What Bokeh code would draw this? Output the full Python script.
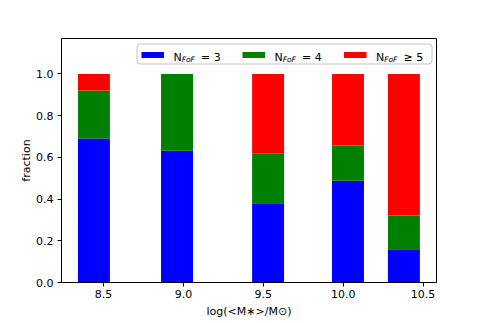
from bokeh.plotting import figure
from bokeh.models import ColumnDataSource, FixedTicker, NumeralTickFormatter, Range1d, Label, BoxAnnotation
from bokeh.embed import file_html
from bokeh.resources import INLINE

# ---- data ----
mass_bins = [8.44, 8.96, 9.53, 10.03, 10.38]
frac_n3 = [0.691, 0.632, 0.380, 0.488, 0.160]
frac_n4 = [0.230, 0.368, 0.237, 0.169, 0.161]
frac_n5 = [0.079, 0.000, 0.383, 0.343, 0.679]
series = ["n3", "n4", "n5"]
colors = ["#0000ff", "#008000", "#ff0000"]
legend_main = ["N", "N", "N"]
legend_sub = ["FoF", "FoF", "FoF"]
legend_tail = ["= 3", "= 4", "\u2265 5"]
x_ticks = [8.5, 9.0, 9.5, 10.0, 10.5]
y_ticks = [0.0, 0.2, 0.4, 0.6, 0.8, 1.0]
bar_width = 0.2

FONT = "DejaVu Sans"
FS = "11px"

src = ColumnDataSource(dict(x=mass_bins, n3=frac_n3, n4=frac_n4, n5=frac_n5))

p = figure(frame_width=375, frame_height=244, output_backend="svg", toolbar_location=None,
           min_border_left=61, min_border_top=38, min_border_right=44, min_border_bottom=38,
           x_range=Range1d(8.237, 10.584), y_range=Range1d(0, 1.17))

p.vbar_stack(series, x="x", width=bar_width, color=colors, source=src, line_color=None)

p.grid.visible = False
p.outline_line_color = "black"
p.outline_line_alpha = 1
p.outline_line_width = 1
p.background_fill_color = "white"
p.border_fill_color = "white"

p.xaxis.ticker = FixedTicker(ticks=x_ticks)
p.yaxis.ticker = FixedTicker(ticks=y_ticks)
for ax in (p.xaxis, p.yaxis):
    ax.formatter = NumeralTickFormatter(format="0.0")
    ax.minor_tick_line_color = None
    ax.major_tick_in = 0
    ax.major_tick_out = 4
    ax.axis_line_color = "black"
    ax.major_tick_line_color = "black"
    ax.major_label_text_font = FONT
    ax.major_label_text_font_size = FS
    ax.major_label_text_color = "black"
    ax.axis_label_text_font = FONT
    ax.axis_label_text_font_size = FS
    ax.axis_label_text_font_style = "normal"
    ax.axis_label_text_color = "black"
p.xaxis.major_label_standoff = 3
p.xaxis.axis_label_standoff = 4
p.yaxis.major_label_standoff = 4
p.yaxis.axis_label_standoff = 0
p.xaxis.axis_label = "log(<M\u2217>/M\u2299)"
p.yaxis.axis_label = "fraction"

# ---- legend (screen units, frame-relative, origin bottom-left) ----
FH = 244
def sy(top_off):
    return FH - top_off

p.add_layout(BoxAnnotation(left=75.5, right=370.5, top=sy(5.5), bottom=sy(25.5),
                           left_units="screen", right_units="screen", top_units="screen", bottom_units="screen",
                           fill_color="white", fill_alpha=0.8, line_color="#c4c4c4", line_alpha=1, line_width=1,
                           border_radius=3))
sw_left = [80, 181, 282.5]
for i in range(3):
    x0 = sw_left[i]
    p.add_layout(BoxAnnotation(left=x0, right=x0 + 22.5, top=sy(13.5), bottom=sy(19.5),
                               left_units="screen", right_units="screen", top_units="screen", bottom_units="screen",
                               fill_color=colors[i], fill_alpha=1, line_color=None))
    tx = x0 + 32
    p.add_layout(Label(x=tx, y=sy(19), x_units="screen", y_units="screen", text=legend_main[i],
                       text_font=FONT, text_font_size=FS, text_baseline="alphabetic", text_color="black"))
    p.add_layout(Label(x=tx + 8.2, y=sy(20.7), x_units="screen", y_units="screen", text=legend_sub[i],
                       text_font=FONT, text_font_size="7.5px", text_font_style="italic",
                       text_baseline="alphabetic", text_color="black"))
    p.add_layout(Label(x=tx + 27.5, y=sy(19), x_units="screen", y_units="screen", text=legend_tail[i],
                       text_font=FONT, text_font_size=FS, text_baseline="alphabetic", text_color="black"))

open("out.html", "w").write(file_html(p, INLINE))
